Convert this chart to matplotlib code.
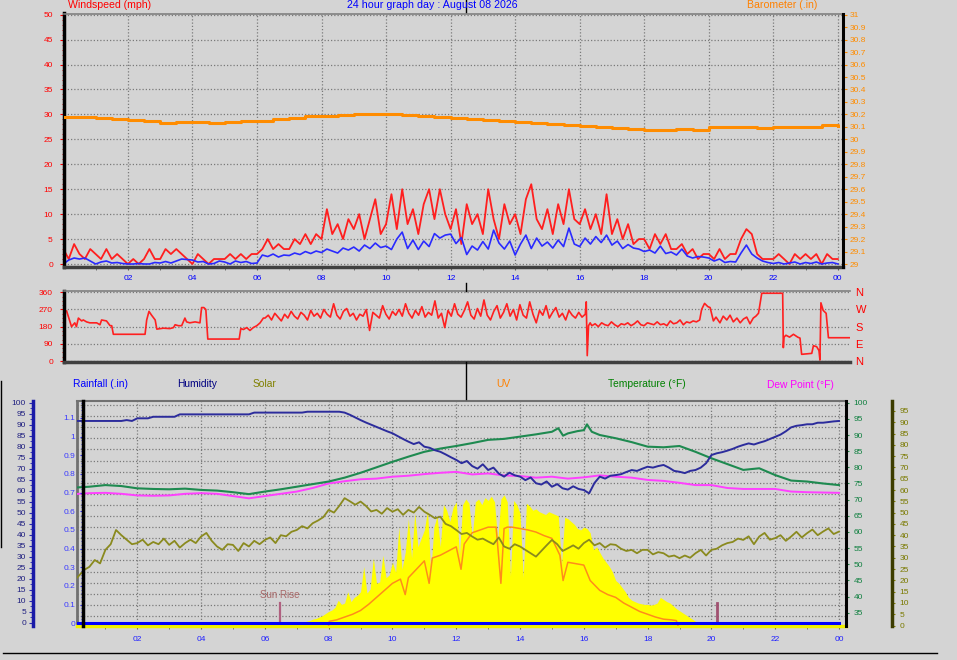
import numpy as np
import matplotlib
matplotlib.use("Agg")
import matplotlib.pyplot as plt
from matplotlib.lines import Line2D
from matplotlib.ticker import MultipleLocator

plt.rcParams["font.family"] = ["Liberation Sans", "DejaVu Sans"]

FIG_W, FIG_H = 957, 660
BG = "#d4d4d4"
GRID = "#7a7a7a"
DOTS = (0, (1, 1.6))
TICK_SIZE = 6.0

title_text = "24 hour graph day : August 08 2026"
hour_ticks = [2, 4, 6, 8, 10, 12, 14, 16, 18, 20, 22, 24]
hour_labels = ["02", "04", "06", "08", "10", "12", "14", "16", "18", "20", "22", "00"]

# ---- windspeed (mph), 10 minute samples 00:00 -> 24:00 ----
wind_gust = [
    3, 1, 4, 2, 1, 3,
    2, 1, 3, 1, 2, 1,
    0, 1, 0, 1, 3, 1,
    1, 3, 2, 3, 2, 1,
    0, 2, 1, 0, 1, 1,
    1, 2, 1, 2, 1, 2,
    2, 3, 5, 3, 4, 3,
    3, 5, 4, 6, 4, 6,
    5, 11, 6, 8, 5, 9,
    7, 10, 5, 9, 13, 6,
    8, 14, 7, 15, 8, 11,
    6, 12, 15, 9, 15, 10,
    7, 11, 4, 12, 8, 10,
    6, 15, 9, 5, 12, 8,
    10, 6, 13, 16, 9, 7,
    11, 6, 12, 8, 15, 9,
    8, 11, 7, 10, 6, 14,
    6, 9, 5, 8, 4, 5,
    5, 3, 6, 4, 6, 3,
    3, 4, 2, 3, 1, 2,
    2, 1, 3, 1, 2, 2,
    5, 7, 6, 2, 1, 1,
    1, 2, 1, 0, 2, 1,
    2, 1, 2, 0, 2, 1,
    1,
]
wind_avg = [
    0.0, 0.8, 1.2, 1.0, 1.2, 0.6,
    0.0, 0.4, 0.6, 0.2, 0.3, 0.1,
    0.0, 0.0, 0.1, 0.0, 0.0, 0.3,
    0.2, 0.5, 0.2, 0.6, 1.0, 0.9,
    0.8, 0.4, 0.5, 0.0, 0.1, 0.6,
    0.4, 0.0, 0.6, 0.3, 0.5, 0.1,
    0.2, 1.8, 1.5, 2.0, 1.4, 1.8,
    1.7, 2.2, 1.9, 2.5, 2.1, 2.6,
    2.3, 3.0, 2.6, 2.2, 3.2, 2.8,
    3.4, 2.6, 3.8, 3.1, 4.2, 3.3,
    3.6, 2.9, 5.0, 6.4, 3.1, 4.8,
    2.9, 4.6, 3.5, 6.1, 5.2, 5.8,
    6.0, 4.1, 5.3, 1.9, 3.6, 2.8,
    4.5, 3.0, 6.8, 4.2, 3.0, 4.6,
    1.8, 4.0, 5.8, 3.1, 5.2, 3.6,
    4.4, 3.2, 4.8, 3.5, 7.2, 4.0,
    3.5, 5.2, 4.0, 5.5, 4.3, 5.8,
    3.8, 4.6, 3.1, 3.9, 3.2, 3.0,
    2.5, 2.8, 2.2, 3.6, 2.1, 2.4,
    1.8, 3.0, 1.6, 1.2, 1.5, 1.4,
    1.2, 0.6, 1.0, 0.3, 0.5, 0.4,
    2.2, 3.8, 2.0, 1.2, 0.6, 0.3,
    0.1, 0.3, 0.0, 0.2, 0.4, 0.0,
    0.3, 0.1, 0.4, 0.0, 0.2, 0.3,
    0.0,
]

# ---- barometer (inHg), 30 minute samples ----
baro_in = [
    30.182, 30.182, 30.174, 30.163, 30.155, 30.147, 30.134, 30.142,
    30.142, 30.134, 30.142, 30.150, 30.150, 30.166, 30.174, 30.184,
    30.190, 30.195, 30.200, 30.203, 30.200, 30.195, 30.190, 30.182,
    30.174, 30.166, 30.158, 30.150, 30.142, 30.134, 30.126, 30.118,
    30.110, 30.100, 30.090, 30.082, 30.075, 30.075, 30.080, 30.075,
    30.100, 30.100, 30.100, 30.088, 30.096, 30.096, 30.100, 30.112,
    30.110,
]

# ---- wind direction (degrees) ----
dir_early_hours = [0.03, 0.18, 0.28, 0.33, 0.39, 0.49, 0.54, 0.64, 0.74, 0.95,
                   1.05, 1.10, 1.25, 1.36, 1.41, 1.46, 2.43, 2.48, 2.55, 2.63,
                   2.74, 2.79, 2.99, 3.19, 3.30, 3.35, 3.45, 3.55, 3.65, 3.70,
                   3.80, 3.96, 4.11, 4.16, 4.23, 4.29, 4.35, 5.31, 5.36, 5.44,
                   5.54, 5.64, 5.74, 5.85, 5.95]
dir_early_deg = [262, 180, 200, 180, 225, 210, 215, 205, 200, 200,
                 190, 215, 210, 185, 185, 140, 140, 215, 260, 240,
                 215, 167, 172, 170, 175, 190, 185, 185, 225, 205,
                 200, 205, 200, 280, 280, 270, 115, 115, 170, 165,
                 175, 160, 175, 185, 200]
# 06:06 -> 15:54, every 6 minutes
dir_mid_deg = [
    225, 240, 215, 250, 230, 210, 245, 225, 260, 235,
    220, 255, 240, 215, 265, 235, 250, 225, 270, 245,
    230, 300, 240, 220, 260, 275, 235, 250, 215, 245,
    235, 270, 160, 255, 240, 225, 290, 245, 220, 260,
    240, 270, 235, 300, 250, 225, 265, 240, 285, 230,
    255, 240, 315, 225, 250, 175, 265, 235, 300, 245,
    230, 265, 310, 240, 220, 275, 235, 320, 240, 215,
    260, 290, 225, 255, 300, 235, 270, 215, 295, 240,
    225, 310, 245, 200, 265, 240, 290, 225, 255, 280,
    230, 250, 215, 265, 240, 225, 255, 230, 245,
]
dir_spike_hours = [15.93, 15.96, 16.0, 16.05]
dir_spike_deg = [310, 28, 185, 200]
# 16:06 -> 19:24, every 6 minutes
dir_pm_deg = [
    185, 195, 180, 200, 190, 185, 205, 190, 180, 195,
    190, 200, 185, 195, 210, 190, 185, 200, 195, 190,
    205, 190, 195, 185, 210, 195, 200, 215, 190, 205,
    200, 210, 205, 215,
]
dir_late_hours = [19.46, 19.55, 19.65, 19.72, 19.82, 19.9, 20.02, 20.12, 20.23, 20.33,
                  20.43, 20.54, 20.64, 20.74, 20.84, 20.94, 21.04, 21.12, 21.2, 21.3,
                  21.94, 21.96, 21.98, 22.04, 22.15, 22.27, 22.4, 22.47, 22.52, 22.83,
                  22.88, 22.98, 23.05, 23.08, 23.11, 23.18, 23.27, 23.34, 24.0]
dir_late_deg = [270, 302, 285, 280, 210, 230, 200, 235, 215, 240,
                205, 225, 200, 220, 230, 195, 225, 235, 250, 355,
                355, 70, 125, 135, 125, 140, 125, 120, 35, 40,
                80, 75, 55, 5, 305, 265, 250, 122, 122]

# ---- lower panel ----
# humidity (%), 10 minute samples
humidity = [
    91.7, 91.7, 91.7, 91.7, 91.7, 91.7,
    91.7, 91.7, 91.7, 91.7, 92.1, 91.7,
    92.9, 92.9, 92.9, 93.6, 93.6, 93.6,
    93.6, 93.6, 94.7, 94.7, 94.7, 94.7,
    94.7, 94.7, 94.7, 94.7, 94.7, 94.7,
    94.7, 94.7, 94.7, 94.7, 95.5, 95.5,
    95.5, 95.5, 95.5, 95.5, 95.5, 95.5,
    95.5, 95.5, 95.9, 95.9, 95.9, 95.9,
    95.9, 95.9, 95.9, 95.5, 94.5, 93.3,
    92.1, 91.0, 90.0, 89.0, 88.0, 87.0,
    86.1, 84.8, 83.5, 82.3, 81.2, 82.0,
    80.0, 79.5, 78.4, 77.7, 76.5, 75.2,
    74.0, 72.5, 73.5, 71.2, 70.0, 72.0,
    69.4, 70.5, 67.8, 66.4, 68.2, 67.0,
    66.4, 64.8, 66.0, 63.4, 62.8, 64.2,
    61.8, 63.0, 61.1, 60.5, 62.0, 60.8,
    60.3, 58.8, 63.5, 66.4, 65.5, 66.8,
    67.1, 67.5, 68.5, 69.4, 69.0, 70.0,
    70.9, 70.5, 71.2, 71.7, 70.5, 69.0,
    68.6, 68.0, 69.0, 69.4, 70.5, 72.5,
    76.2, 77.0, 77.5, 78.2, 79.0, 80.0,
    80.8, 81.5, 81.0, 81.8, 82.5, 83.5,
    84.5, 85.5, 87.0, 88.8, 89.5, 89.8,
    90.2, 90.2, 90.9, 90.9, 91.2, 91.5,
    91.7,
]
# olive trace on the far right 0-100 scale, 10 minute samples
olive_trace = [
    19.5, 22.0, 24.6, 26.0, 29.0, 27.5,
    33.5, 36.0, 42.3, 40.0, 38.0, 36.0,
    36.5, 38.0, 35.5, 37.0, 36.0, 38.5,
    35.7, 37.5, 34.5, 36.5, 38.0, 36.5,
    39.4, 41.0, 37.5, 35.0, 33.5, 36.0,
    35.7, 33.0, 36.5, 35.0, 37.5, 36.0,
    37.9, 39.0, 36.5, 40.0, 39.5, 41.5,
    42.3, 44.0, 43.0, 45.3, 46.5, 48.0,
    51.2, 50.0, 53.0, 56.4, 55.0, 53.5,
    54.9, 53.0, 50.5, 51.2, 49.5, 52.0,
    50.4, 51.5, 49.0, 51.2, 50.0, 52.5,
    50.4, 49.0, 47.5, 48.2, 45.0, 44.0,
    42.3, 40.5, 41.0, 39.4, 38.0, 38.5,
    37.2, 36.0, 39.0, 35.0, 34.0, 36.0,
    35.0, 33.5, 32.0, 30.5, 33.0, 35.5,
    37.9, 36.0, 33.0, 34.2, 35.5, 34.0,
    36.5, 38.0, 35.5, 36.5, 34.5, 36.0,
    35.7, 34.0, 33.0, 33.5, 32.0, 33.5,
    33.5, 31.5, 32.5, 32.0, 30.5, 31.0,
    29.8, 31.0, 30.0, 32.0, 33.5, 31.0,
    33.5, 34.0, 35.5, 36.5, 37.0, 38.5,
    37.9, 39.5, 36.0, 39.4, 41.0, 38.0,
    38.7, 40.0, 37.5, 39.4, 41.5, 39.0,
    40.9, 42.5, 40.0, 41.6, 43.0, 40.5,
    41.6,
]
temp_hours = [0.0, 0.5, 1.0, 1.5, 2.0, 2.5, 3.0, 3.5, 4.0, 4.5,
              5.0, 5.5, 6.0, 6.5, 7.0, 7.5, 8.0, 8.5, 9.0, 9.5,
              10.0, 10.5, 11.0, 11.5, 12.0, 12.5, 13.0, 13.5, 14.0, 14.5,
              15.0, 15.2, 15.35, 15.5, 15.8, 16.0, 16.1, 16.25, 16.5,
              17.0, 17.5, 18.0, 18.5, 19.0, 19.5, 20.0, 20.5, 21.0, 21.5,
              22.0, 22.5, 23.0, 23.5, 24.0]
temp_f = [73.7, 74.0, 74.5, 74.2, 73.5, 73.3, 73.2, 73.4, 73.0, 72.8,
          72.3, 71.7, 72.5, 73.2, 74.0, 74.8, 75.6, 76.8, 78.3, 80.0,
          81.7, 83.3, 84.8, 85.8, 86.6, 87.5, 88.5, 88.8, 89.5, 90.2,
          91.0, 92.1, 89.8, 90.5, 91.2, 91.5, 93.3, 91.0, 90.0,
          89.0, 87.8, 86.4, 86.2, 86.6, 84.8, 82.8, 81.0, 79.2, 79.7,
          77.6, 75.9, 75.6, 75.0, 74.5]
# dew point, 30 minute samples
dew_f = [71.7, 72.0, 72.1, 71.8, 71.3, 71.2, 71.3, 71.8, 72.0, 71.8,
         71.1, 70.4, 71.1, 71.8, 72.5, 73.6, 75.0, 75.7, 76.3, 76.5,
         77.1, 77.4, 77.9, 78.3, 78.6, 77.8, 78.1, 77.5, 77.3, 76.8,
         77.1, 76.5, 76.9, 77.5, 77.1, 76.8, 76.1, 75.8, 75.2, 74.5,
         74.5, 73.6, 73.3, 73.3, 73.3, 72.5, 72.3, 72.2, 72.1]
# solar radiation (W/m2), every 6 minutes from 06:48 to 19:54
solar_wm2 = [
    5, 10,
    15, 20, 25, 30, 35, 45, 50, 60, 70, 85,
    100, 110, 130, 180, 150, 160, 240, 170, 200, 215,
    240, 420, 230, 260, 480, 300, 310, 500, 340, 360,
    450, 380, 700, 400, 520, 760, 480, 800, 560, 620,
    680, 820, 380, 700, 780, 560, 860, 820, 740, 840,
    880, 500, 860, 900, 870, 620, 880, 900, 860, 910,
    890, 920, 880, 600, 900, 930, 880, 350, 890, 860,
    800, 340, 870, 850, 820, 830, 810, 800, 790, 810,
    800, 790, 780, 430, 770, 760, 740, 720, 690, 680,
    700, 690, 660, 540, 560, 520, 480, 450, 420, 380,
    320, 300, 270, 240, 200, 180, 170, 160, 155, 150,
    150, 145, 150, 160, 200, 185, 170, 160, 140, 120,
    105, 90, 75, 60, 45, 30, 20, 12, 5, 0,
]
uv_hours = [8.0, 8.02, 8.25, 8.5, 8.75, 9.0, 9.25, 9.5, 9.75, 10.0,
            10.25, 10.4, 10.5, 10.75, 11.0, 11.15, 11.25, 11.5, 11.75, 12.0,
            12.15, 12.25, 12.5, 12.75, 13.0, 13.25, 13.4, 13.5, 13.6, 13.75,
            14.0, 14.25, 14.5, 14.75, 15.0, 15.25, 15.35, 15.5, 15.75, 16.0,
            16.2, 16.5, 16.75, 17.0, 17.25, 17.5, 17.75, 18.0, 18.25, 18.5,
            18.75, 18.9, 18.95]
uv_index = [0.0, 0.3, 0.4, 0.6, 0.8, 1.07, 1.5, 2.0, 2.5, 3.0,
            3.3, 2.2, 3.4, 4.0, 4.6, 3.0, 4.8, 5.0, 5.3, 5.6,
            4.0, 5.8, 6.6, 6.8, 7.0, 7.0, 3.0, 6.9, 7.0, 7.0,
            6.9, 6.8, 6.65, 6.4, 6.2, 5.0, 3.2, 4.5, 4.4, 4.3,
            3.2, 2.5, 2.2, 2.0, 1.6, 1.3, 1.0, 0.8, 0.6, 0.45,
            0.4, 0.35, 0.0]
rain_hours = [0.0, 24.0]
rain_in = [0.0, 0.0]
sunrise_hour = 6.47
sunset_hour = 20.16


def px_rect(left, top, right, bottom):
    """Axes rectangle from pixel edges (origin top-left)."""
    return [left / FIG_W, 1 - bottom / FIG_H, (right - left) / FIG_W, (bottom - top) / FIG_H]


def fig_line(fig, x0, y0, x1, y1, color="black", lw=1.0):
    fig.add_artist(Line2D([x0 / FIG_W, x1 / FIG_W], [1 - y0 / FIG_H, 1 - y1 / FIG_H],
                          transform=fig.transFigure, color=color, lw=lw))


def fig_text(fig, x, y, text, color, size=7.4, ha="left"):
    fig.text(x / FIG_W, 1 - y / FIG_H, text, color=color, fontsize=size, ha=ha, va="center")


def hide_spines(ax, keep=()):
    for name, spine in ax.spines.items():
        spine.set_visible(name in keep)


def hour_axis(ax, label_color, pad):
    ax.set_xticks(hour_ticks)
    ax.set_xticklabels(hour_labels)
    ax.xaxis.set_minor_locator(MultipleLocator(1))
    ax.tick_params(axis="x", which="major", labelcolor=label_color, color="#606060",
                   length=2.5, labelsize=TICK_SIZE, pad=pad)
    ax.tick_params(axis="x", which="minor", color="#606060", length=2)
    ax.grid(True, axis="x", which="major", color=GRID, linestyle=DOTS, lw=0.9)


def draw_wind_panel(fig):
    """Windspeed / gust with barometer on the right."""
    ax = fig.add_axes(px_rect(64, 13.5, 843, 267))
    ax.set_facecolor(BG)
    ax.set_xlim(0.02, 24.16)
    ax.set_ylim(-0.6, 50.24)
    ax.set_axisbelow(True)

    hour_axis(ax, "#0000ff", 3)
    ax.set_yticks(range(0, 51, 5))
    ax.yaxis.set_minor_locator(MultipleLocator(1))
    ax.tick_params(axis="y", which="major", colors="#ff0000", length=3, labelsize=TICK_SIZE, pad=5)
    ax.tick_params(axis="y", which="minor", color="#ff0000", length=1.8)
    ax.grid(True, axis="y", which="major", color=GRID, linestyle=DOTS, lw=0.9)

    hide_spines(ax, keep=("left", "bottom", "top"))
    ax.spines["left"].set_color("black")
    ax.spines["left"].set_linewidth(2.5)
    ax.spines["bottom"].set_color("#404040")
    ax.spines["bottom"].set_linewidth(2.5)
    ax.spines["top"].set_color("#808080")
    ax.spines["top"].set_linewidth(1.2)

    t10 = np.arange(len(wind_gust)) / 6
    ax.plot(t10, wind_gust, color="#ff1e1e", lw=1.3)
    ax.plot(t10, wind_avg, color="#2a2aff", lw=1.2)

    axb = ax.twinx()
    axb.set_ylim(28.976, 31.0096)
    baro_ticks = np.round(np.arange(29.0, 31.05, 0.1), 1)
    axb.set_yticks(baro_ticks)
    axb.set_yticklabels([f"{v:g}" for v in baro_ticks])
    axb.tick_params(axis="y", colors="#ff8c00", length=3, labelsize=TICK_SIZE, pad=2)
    hide_spines(axb, keep=("right",))
    axb.spines["right"].set_color("black")
    axb.spines["right"].set_linewidth(2.2)
    t30 = np.arange(len(baro_in)) / 2
    axb.step(t30, baro_in, where="post", color="#ff8c00", lw=2.2)


def draw_direction_panel(fig):
    """Wind direction strip."""
    ax = fig.add_axes(px_rect(64, 290.7, 850, 361.5))
    ax.set_facecolor(BG)
    ax.set_xlim(-0.05, 24.0)
    ax.set_ylim(-2.6, 368.4)
    ax.set_xticks([])
    ax.set_yticks([0, 90, 180, 270, 360])
    ax.yaxis.set_minor_locator(MultipleLocator(22.5))
    ax.tick_params(axis="y", which="major", colors="#ff0000", length=3, labelsize=TICK_SIZE, pad=5)
    ax.tick_params(axis="y", which="minor", color="#ff0000", length=1.8)
    ax.grid(True, axis="y", color=GRID, linestyle=DOTS, lw=0.9)
    ax.set_axisbelow(True)

    hide_spines(ax, keep=("left", "bottom", "top"))
    ax.spines["left"].set_color("black")
    ax.spines["left"].set_linewidth(2.5)
    ax.spines["bottom"].set_color("#404040")
    ax.spines["bottom"].set_linewidth(2.5)
    ax.spines["top"].set_color("#808080")
    ax.spines["top"].set_linewidth(1.2)

    mid_hours = np.arange(61, 160) / 10
    pm_hours = np.arange(161, 195) / 10
    hours = np.concatenate([dir_early_hours, [6.05], mid_hours, dir_spike_hours, pm_hours, dir_late_hours])
    degs = np.concatenate([dir_early_deg, [225], dir_mid_deg, dir_spike_deg, dir_pm_deg, dir_late_deg])
    ax.plot(hours, degs, color="#ff2020", lw=1.2)

    axr = ax.twinx()
    axr.set_ylim(-2.6, 368.4)
    axr.set_yticks([0, 90, 180, 270, 360])
    axr.set_yticklabels(["N", "E", "S", "W", "N"])
    axr.tick_params(axis="y", colors="#ff0000", length=0, labelsize=8, pad=4)
    hide_spines(axr)


def draw_lower_panel(fig):
    """Rain, humidity, solar, UV, temperature and dew point."""
    rect = px_rect(77, 400.7, 846, 625.5)
    ax = fig.add_axes(rect)
    ax.set_facecolor(BG)
    ax.set_xlim(0.11, 24.22)
    ax.set_ylim(0, 1)
    hour_axis(ax, "#2020ff", 5)
    grid_rows = (625.5 - np.linspace(405, 616, 20)) / 224.8
    ax.set_yticks(grid_rows)
    ax.set_yticklabels([])
    ax.tick_params(axis="y", length=0)
    ax.grid(True, axis="y", color=GRID, linestyle=DOTS, lw=0.9)
    ax.set_axisbelow(True)
    hide_spines(ax, keep=("left", "top"))
    ax.spines["left"].set_color("#707070")
    ax.spines["left"].set_linewidth(2)
    ax.spines["top"].set_color("#707070")
    ax.spines["top"].set_linewidth(1.5)

    # sunrise / sunset markers
    ax.axvline(sunrise_hour, ymin=0, ymax=0.1, color="#b06080", lw=1.6)
    ax.axvline(sunset_hour, ymin=0, ymax=0.1, color="#a05070", lw=2)
    ax.text(sunrise_hour, 0.112, "Sun Rise", color="#a86868", fontsize=7, ha="center", va="bottom")

    t10 = np.arange(len(humidity)) / 6
    t30 = np.arange(len(dew_f)) / 2

    ax_sol = ax.twinx()
    hide_spines(ax_sol)
    ax_sol.set_yticks([])
    ax_sol.set_ylim(0, 1600)
    solar_hours = np.arange(68, 68 + len(solar_wm2)) / 10
    ax_sol.fill_between(solar_hours, solar_wm2, 0, color="#ffff00", lw=0)
    ax_sol.axhline(0, color="#f0f000", lw=2.5, clip_on=False)

    ax_uv = ax.twinx()
    hide_spines(ax_uv)
    ax_uv.set_yticks([])
    ax_uv.set_ylim(0, 16)
    ax_uv.plot(uv_hours, uv_index, color="#ff8c1a", lw=1.1)

    # olive 0-100 scale, far right
    ax_ol = ax.twinx()
    ax_ol.set_ylim(0.09, 99.56)
    hide_spines(ax_ol, keep=("right",))
    ax_ol.spines["right"].set_position(("axes", (891.7 - 77) / 769))
    ax_ol.spines["right"].set_color("#3c3c00")
    ax_ol.spines["right"].set_linewidth(2.5)
    ax_ol.set_yticks(range(0, 100, 5))
    ax_ol.tick_params(axis="y", color="#808000", labelcolor="#7a7a00", length=2.5,
                      labelsize=TICK_SIZE, pad=3)
    ax_ol.plot(t10, olive_trace, color="#8a8a1e", lw=1.3)

    # temperature / dew point, right scale
    ax_t = ax.twinx()
    ax_t.set_ylim(31.04, 100.62)
    hide_spines(ax_t, keep=("right",))
    ax_t.spines["right"].set_color("black")
    ax_t.spines["right"].set_linewidth(2.2)
    ax_t.set_yticks(range(35, 101, 5))
    ax_t.yaxis.set_minor_locator(MultipleLocator(1))
    ax_t.tick_params(axis="y", which="major", color="#208040", labelcolor="#108040",
                     length=2.5, labelsize=TICK_SIZE, pad=3)
    ax_t.tick_params(axis="y", which="minor", color="#208040", length=1)
    ax_t.plot(t30, dew_f, color="#ff40ff", lw=1.4)
    ax_t.plot(temp_hours, temp_f, color="#1e8a50", lw=1.5)

    # humidity 0-100 scale, far left
    ax_h = ax.twinx()
    ax_h.set_ylim(-1.27, 100.91)
    hide_spines(ax_h, keep=("left",))
    ax_h.yaxis.tick_left()
    ax_h.spines["left"].set_position(("axes", (33 - 77) / 769))
    ax_h.spines["left"].set_color("#1a1aa8")
    ax_h.spines["left"].set_linewidth(2.5)
    ax_h.set_yticks(range(0, 101, 5))
    ax_h.yaxis.set_minor_locator(MultipleLocator(2.5))
    ax_h.tick_params(axis="y", which="major", color="#2a2ab0", labelcolor="#202080",
                     length=3, labelsize=TICK_SIZE, pad=2)
    ax_h.tick_params(axis="y", which="minor", color="#2a2ab0", length=2)
    ax_h.plot(t10, humidity, color="#2c2c9c", lw=1.4)

    # rainfall, left scale on the black line
    ax_r = ax.twinx()
    ax_r.set_ylim(-0.0123, 1.1918)
    hide_spines(ax_r, keep=("left",))
    ax_r.yaxis.tick_left()
    ax_r.spines["left"].set_position(("axes", (82.7 - 77) / 769))
    ax_r.spines["left"].set_color("black")
    ax_r.spines["left"].set_linewidth(2.5)
    rain_ticks = np.round(np.arange(0, 1.15, 0.1), 1)
    ax_r.set_yticks(rain_ticks)
    ax_r.set_yticklabels([f"{v:g}" for v in rain_ticks])
    ax_r.yaxis.set_minor_locator(MultipleLocator(0.02))
    ax_r.tick_params(axis="y", which="major", color="#3030ff", labelcolor="#3a3aff",
                     length=2.5, labelsize=TICK_SIZE, pad=3)
    ax_r.tick_params(axis="y", which="minor", color="#3030ff", length=1.5)
    ax_r.plot(rain_hours, rain_in, color="#0000ff", lw=2.2)


def draw_labels(fig):
    """Titles, series names and frame lines."""
    fig_text(fig, 68.3, 5.5, "Windspeed (mph)", "#ff0000", 7.6)
    fig_text(fig, 347, 5.5, title_text, "#0000ff", 7.7)
    fig_text(fig, 747.3, 5.5, "Barometer (.in)", "#ff8000", 7.6)

    fig_text(fig, 72.7, 384, "Rainfall (.in)", "#0000ff")
    fig_text(fig, 176.7, 384, "Humidity", "#000080")
    fig_text(fig, 252.7, 384, "Solar", "#808000")
    fig_text(fig, 496.7, 384, "UV", "#ff8000")
    fig_text(fig, 607.7, 384, "Temperature (°F)", "#008000")
    fig_text(fig, 767, 385, "Dew Point (°F)", "#ff00ff")

    fig_line(fig, 465.5, 0, 465.5, 12)
    fig_line(fig, 465.5, 283, 465.5, 291)
    fig_line(fig, 465.5, 362, 465.5, 399)
    fig_line(fig, 1, 381, 1, 547)
    fig_line(fig, 3, 652.7, 937, 652.7)


def main():
    fig = plt.figure(figsize=(FIG_W / 100, FIG_H / 100), dpi=100, facecolor=BG)
    draw_wind_panel(fig)
    draw_direction_panel(fig)
    draw_lower_panel(fig)
    draw_labels(fig)
    fig.savefig("out.png", dpi=100, facecolor=BG)
    plt.close(fig)


if __name__ == "__main__":
    main()
